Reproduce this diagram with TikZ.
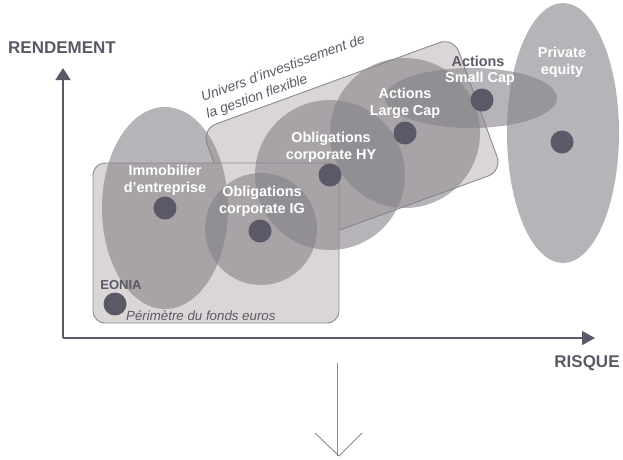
\documentclass[tikz,border=0pt]{standalone}
\usepackage{fontspec}
\setmainfont{Liberation Sans}
\usetikzlibrary{arrows.meta}
\usetikzlibrary{shapes.geometric}

\definecolor{inkgray}{HTML}{5B5968}
\definecolor{edgegray}{HTML}{8C8A90}
\definecolor{boxfill}{HTML}{DBD6D6}
\definecolor{zonefill}{HTML}{858288}

\begin{document}
\begin{tikzpicture}[x=1pt, y=-1pt,
		axis/.style={draw=inkgray, line width=1.4pt},
		box/.style={draw=edgegray, fill=boxfill, line width=0.9pt},
		zone/.style={fill=zonefill, fill opacity=0.6, inner sep=0pt},
		dot/.style={circle, fill=inkgray, minimum size=23pt, inner sep=0pt},
		lab/.style={text=white, font=\fontsize{14.4}{17}\selectfont\bfseries, align=center, inner sep=0pt},
		title/.style={text=inkgray, font=\fontsize{17}{20}\selectfont\bfseries, inner sep=0pt},
		note/.style={text=inkgray, font=\fontsize{13.3}{16}\selectfont\itshape, inner sep=0pt}]
		\useasboundingbox (0,0) rectangle (623,459);

		% the two universes
		\node[box, rectangle, rounded corners=15pt, rotate=20, minimum width=268pt, minimum height=142pt] (univers) at (352,150) {};
		\draw[box, rounded corners=12pt] (93,163) rectangle (339,323);
		\node[note, font=\fontsize{13.9}{16}\selectfont\itshape, rotate=20, anchor=base west] (univ1) at (203,102) {Univers d’investissement de};
		\node[note, font=\fontsize{13.9}{16}\selectfont\itshape, rotate=20, anchor=base west] (univ2) at (208,119) {la gestion flexible};
		\node[note, anchor=west] (fonds) at (126,316) {Périmètre du fonds euros};

		% asset classes
		\node[zone, ellipse, minimum width=126pt, minimum height=202pt] (immo) at (165,208) {};
		\node[zone, circle, minimum size=112pt] (ig) at (261,229) {};
		\node[zone, circle, minimum size=150pt] (hy) at (330,175) {};
		\node[zone, circle, minimum size=150pt] (large) at (405,133) {};
		\node[zone, ellipse, minimum width=172pt, minimum height=60pt] (small) at (471,98) {};
		\node[zone, ellipse, minimum width=112pt, minimum height=260pt] (pe) at (563,133) {};

		\node[dot] (eoniadot) at (115,304) {};
		\node[dot] (immodot) at (165,208) {};
		\node[dot] (igdot) at (260,231) {};
		\node[dot] (hydot) at (330,175) {};
		\node[dot] (largedot) at (405,133) {};
		\node[dot] (smalldot) at (482,100) {};
		\node[dot] (pedot) at (562,142) {};

		\node[lab] (immolab) at (165,180) {Immobilier\\d’entreprise};
		\node[lab] (iglab) at (262,201) {Obligations\\corporate IG};
		\node[lab] (hylab) at (331,147) {Obligations\\corporate HY};
		\node[lab] (largelab) at (405,103) {Actions\\Large Cap};
		\node[lab, text=inkgray] (smalllab1) at (478,61) {Actions};
		\node[lab] (smalllab2) at (480,79) {Small Cap};
		\node[lab] (pelab) at (562,62) {Private\\equity};
		\node[lab, text=inkgray, font=\fontsize{13}{15}\selectfont\bfseries] (eonialab) at (121,285) {EONIA};

		% axes
		\coordinate (O) at (63,338);
		\coordinate (ytip) at (63,68);
		\coordinate (xtip) at (595,338);
		\draw[axis, -{Triangle[width=15pt, length=12pt]}] (O) -- (ytip);
		\draw[axis, -{Triangle[width=14pt, length=13pt]}] (O) -- (xtip);
		\node[title] (rendement) at (62,48) {RENDEMENT};
		\node[title] (risque) at (587,363) {RISQUE};

		% arrow down
		\coordinate (dtop) at (339,363);
		\coordinate (dbot) at (339,456);
		\coordinate (hl) at (315,433);
		\coordinate (hr) at (362,433);
		\draw[edgegray, double, double distance=3pt, line width=0.8pt] (dtop) -- (dbot);
		\draw[edgegray, line width=0.9pt] (hl) -- (dbot) -- (hr);
	\end{tikzpicture}
\end{document}
